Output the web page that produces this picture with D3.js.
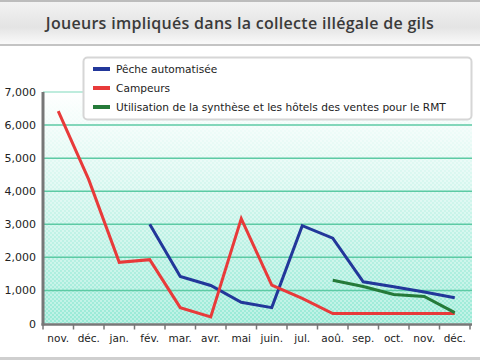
<!DOCTYPE html>
<html><head><meta charset="utf-8">
<script src="https://cdn.jsdelivr.net/npm/d3@7"></script>
<style>body{margin:0;background:#fff}svg{display:block}</style>
</head><body>
<svg id="c" width="480" height="360"></svg>
<script>
const title = "Joueurs impliqués dans la collecte illégale de gils";
const months = ["nov.","déc.","jan.","fév.","mar.","avr.","mai","juin.","jul.","aoû.","sep.","oct.","nov.","déc."];
const yTicks = [0,1000,2000,3000,4000,5000,6000,7000];
const seriesNames = ["Pêche automatisée","Campeurs","Utilisation de la synthèse et les hôtels des ventes pour le RMT"];
const peche   = [null,null,null,3000,1420,1150,640,480,2960,2580,1260,1110,950,780];
const campeurs= [6420,4350,1850,1930,480,200,3170,1160,760,300,300,300,300,300];
const synthese= [null,null,null,null,null,null,null,null,null,1310,1120,880,820,330];
const colors = ["#22379a","#e83a3a","#257a39"];

const svg = d3.select("#c");
const defs = svg.append("defs");
const tg = defs.append("linearGradient").attr("id","tg").attr("x1",0).attr("y1",0).attr("x2",0).attr("y2",1);
tg.append("stop").attr("offset","0").attr("stop-color","#f2f2f2");
tg.append("stop").attr("offset","0.6").attr("stop-color","#e4e4e4");
tg.append("stop").attr("offset","1").attr("stop-color","#fafafa");
const bg = defs.append("linearGradient").attr("id","bg").attr("x1",0).attr("y1",0).attr("x2",0).attr("y2",1);
bg.append("stop").attr("offset","0").attr("stop-color","#ffffff");
bg.append("stop").attr("offset","1").attr("stop-color","#98ead6");
const pat = defs.append("pattern").attr("id","chk").attr("width",4).attr("height",4).attr("patternUnits","userSpaceOnUse");
pat.append("rect").attr("width",2).attr("height",2).attr("fill","#ffffff").attr("opacity",0.35);
pat.append("rect").attr("x",2).attr("y",2).attr("width",2).attr("height",2).attr("fill","#ffffff").attr("opacity",0.35);

// title bar
svg.append("rect").attr("x",0).attr("y",0).attr("width",480).attr("height",2).attr("fill","#bcbcbc");
svg.append("rect").attr("x",0).attr("y",2).attr("width",480).attr("height",42).attr("fill","url(#tg)");
svg.append("rect").attr("x",0).attr("y",44).attr("width",480).attr("height",2).attr("fill","#c4c4c4");
svg.append("text").attr("x",240).attr("y",29).attr("text-anchor","middle")
  .attr("font-family","'Open Sans', 'DejaVu Sans', sans-serif").attr("font-size",16).attr("font-weight",600)
  .attr("fill","#3a3a3a").attr("letter-spacing","0.3").text(title);
svg.append("rect").attr("x",0).attr("y",357).attr("width",480).attr("height",3).attr("fill","#cfcfcf");

const L=43, R=472, T=92, B=323.5;
const x = d3.scaleBand().domain(d3.range(months.length)).range([L,470]);
const y = d3.scaleLinear().domain([0,7000]).range([B,T]);

svg.append("rect").attr("x",L).attr("y",T).attr("width",R-L).attr("height",B-T).attr("fill","url(#bg)");
svg.append("rect").attr("x",L).attr("y",T).attr("width",R-L).attr("height",B-T).attr("fill","url(#chk)");

svg.append("g").selectAll("line").data(yTicks.filter(d=>d>0)).join("line")
  .attr("x1",L).attr("x2",R).attr("y1",d=>y(d)).attr("y2",d=>y(d))
  .attr("stroke",d=>d===7000?"#a8e6d2":"#5ccaa4").attr("stroke-width",1.5);

// y axis
const ya = svg.append("g").attr("transform",`translate(${L},0)`)
  .call(d3.axisLeft(y).tickValues(yTicks).tickFormat(d3.format(",")).tickSize(0).tickPadding(7));
ya.select(".domain").remove();
ya.selectAll("text").attr("font-family","'DejaVu Sans', sans-serif").attr("font-size",11).attr("fill","#222");
svg.append("line").attr("x1",L).attr("x2",L).attr("y1",T).attr("y2",B+2).attr("stroke","#777").attr("stroke-width",3);

// x axis
const xa = svg.append("g").attr("transform",`translate(0,${B})`)
  .call(d3.axisBottom(x).tickFormat(i=>months[i]).tickSize(0).tickPadding(11));
xa.select(".domain").remove();
xa.selectAll("text").attr("font-family","'DejaVu Sans', sans-serif").attr("font-size",10.5).attr("fill","#222");
svg.append("line").attr("x1",L-1.5).attr("x2",R).attr("y1",B+1).attr("y2",B+1).attr("stroke","#777").attr("stroke-width",2.5);
const bounds = d3.range(months.length+1).map(i=> i<months.length? x(i) : x(months.length-1)+x.bandwidth());
svg.append("g").selectAll("line").data(bounds).join("line")
  .attr("x1",d=>d).attr("x2",d=>d).attr("y1",B+1).attr("y2",B+6).attr("stroke","#777").attr("stroke-width",1.5);

// lines
const line = d3.line().defined(d=>d!=null).x((d,i)=>x(i)+x.bandwidth()/2).y(d=>y(d));
[peche,campeurs,synthese].forEach((s,k)=>{
  svg.append("path").datum(s).attr("d",line).attr("fill","none").attr("stroke",colors[k])
    .attr("stroke-width",3).attr("stroke-linejoin","miter");
});

// legend
const lg = svg.append("g");
lg.append("rect").attr("x",83.5).attr("y",57.5).attr("width",388).attr("height",62).attr("rx",4)
  .attr("fill","#fff").attr("stroke","#d6d6d6").attr("stroke-width",2);
seriesNames.forEach((n,k)=>{
  const yy = 69 + k*19;
  lg.append("rect").attr("x",93).attr("y",yy-2).attr("width",17).attr("height",4).attr("fill",colors[k]);
  lg.append("text").attr("x",116).attr("y",yy+4).attr("font-family","'DejaVu Sans', sans-serif")
    .attr("font-size",10.6).attr("fill","#222").text(n);
});
</script>
</body></html>
